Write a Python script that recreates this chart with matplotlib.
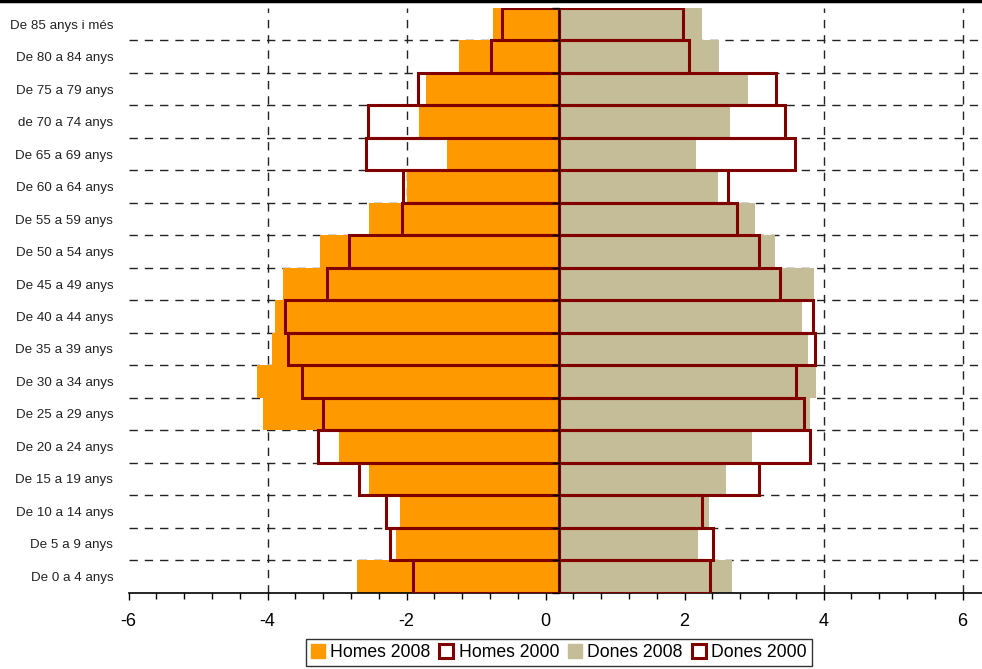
import matplotlib.pyplot as plt
import numpy as np
from matplotlib.lines import Line2D
from matplotlib.patches import Patch

# piramide de poblacio, % sobre el total
edats = ['De 0 a 4 anys', 'De 5 a 9 anys', 'De 10 a 14 anys', 'De 15 a 19 anys',
         'De 20 a 24 anys', 'De 25 a 29 anys', 'De 30 a 34 anys', 'De 35 a 39 anys',
         'De 40 a 44 anys', 'De 45 a 49 anys', 'De 50 a 54 anys', 'De 55 a 59 anys',
         'De 60 a 64 anys', 'De 65 a 69 anys', 'de 70 a 74 anys', 'De 75 a 79 anys',
         'De 80 a 84 anys', 'De 85 anys i més']

homes_2008 = [2.90, 2.34, 2.28, 2.73, 3.16, 4.26, 4.34, 4.12, 4.08, 3.97,
              3.44, 2.73, 2.18, 1.61, 2.01, 1.91, 1.43, 0.94]
homes_2000 = [2.09, 2.43, 2.49, 2.87, 3.46, 3.39, 3.69, 3.90, 3.94, 3.33,
              3.02, 2.26, 2.24, 2.78, 2.74, 2.02, 0.98, 0.81]
dones_2008 = [2.49, 2.01, 2.16, 2.40, 2.78, 3.62, 3.70, 3.58, 3.50, 3.68,
              3.11, 2.82, 2.29, 1.98, 2.47, 2.73, 2.30, 2.06]
dones_2000 = [2.18, 2.22, 2.06, 2.88, 3.62, 3.53, 3.41, 3.69, 3.66, 3.18,
              2.88, 2.57, 2.43, 3.40, 3.25, 3.12, 1.87, 1.79]

xticks = [-6, -4, -2, 0, 2, 4, 6]

BASE = 0.19  # l'eix vertical no cau exactament al zero
ORANGE = '#FF9900'
TAN = '#C4BD97'
DKRED = '#800000'

plt.rcParams['font.family'] = ['Liberation Sans', 'DejaVu Sans']

fig = plt.figure(figsize=(9.82, 6.69), dpi=100)
ax = fig.add_axes([128.5/982, 76.5/669, 1 - 128.5/982, (592.5 - 8)/669])

y = np.arange(len(edats))
h2008 = np.array(homes_2008)
h2000 = np.array(homes_2000)
d2008 = np.array(dones_2008)
d2000 = np.array(dones_2000)

ax.barh(y, -h2008, left=BASE, height=1.0, color=ORANGE, zorder=2)
ax.barh(y, d2008, left=BASE, height=1.0, color=TAN, zorder=2)
ax.barh(y, -h2000, left=BASE, height=1.0, facecolor='none', edgecolor=DKRED,
        linewidth=2.2, zorder=3)
ax.barh(y, d2000, left=BASE, height=1.0, facecolor='none', edgecolor=DKRED,
        linewidth=2.2, zorder=3)

ax.set_xlim(-6, 6.28)
ax.set_ylim(-0.5, len(edats) - 0.5)

# graella discontinua
for yy in np.arange(0.5, len(edats) - 1, 1.0):
    ax.axhline(yy, color='#222222', lw=1, dashes=(6, 5), zorder=1)
for xx in [-4, -2, 0, 2, 4, 6]:
    ax.axvline(xx, color='#222222', lw=1, dashes=(6, 5), zorder=1)

for s in ['top', 'right', 'left']:
    ax.spines[s].set_visible(False)
ax.spines['bottom'].set_linewidth(1.2)

ax.set_xticks(xticks)
ax.set_xticklabels([str(t) for t in xticks])
ax.set_xticks(np.arange(-6, 6.3, 0.4), minor=True)
ax.tick_params(axis='x', which='major', length=5, width=1, labelsize=13, pad=10)
ax.tick_params(axis='x', which='minor', length=4, width=1)

ax.set_yticks(y)
ax.set_yticklabels(edats, fontsize=9.6, color='#222222')
ax.tick_params(axis='y', length=0, pad=11)

# eix vertical al centre de la piramide
loc = (BASE + 6) / (6.28 + 6)
sec = ax.secondary_yaxis(loc)
sec.set_yticks(np.arange(-0.5, len(edats), 1.0))
sec.set_yticklabels([])
sec.tick_params(direction='in', length=5, width=1)
sec.spines['left'].set_linewidth(1.5)
sec.set_zorder(4)

fig.add_artist(Line2D([0, 1], [0.998, 0.998], color='black', lw=2.5))

handles = [Patch(facecolor=ORANGE, edgecolor=ORANGE),
           Patch(facecolor='white', edgecolor=DKRED, linewidth=2.2),
           Patch(facecolor=TAN, edgecolor=TAN),
           Patch(facecolor='white', edgecolor=DKRED, linewidth=2.2)]
leg = fig.legend(handles, ['Homes 2008', 'Homes 2000', 'Dones 2008', 'Dones 2000'],
                 loc='upper center', bbox_to_anchor=(0.569, 0.045), ncol=4,
                 fontsize=12.7, frameon=True, fancybox=False, edgecolor='black',
                 handlelength=0.8, handleheight=0.8, handletextpad=0.3,
                 columnspacing=0.5, borderpad=0.3, borderaxespad=0)
leg.get_frame().set_linewidth(1)

fig.savefig('out.png', dpi=100)
